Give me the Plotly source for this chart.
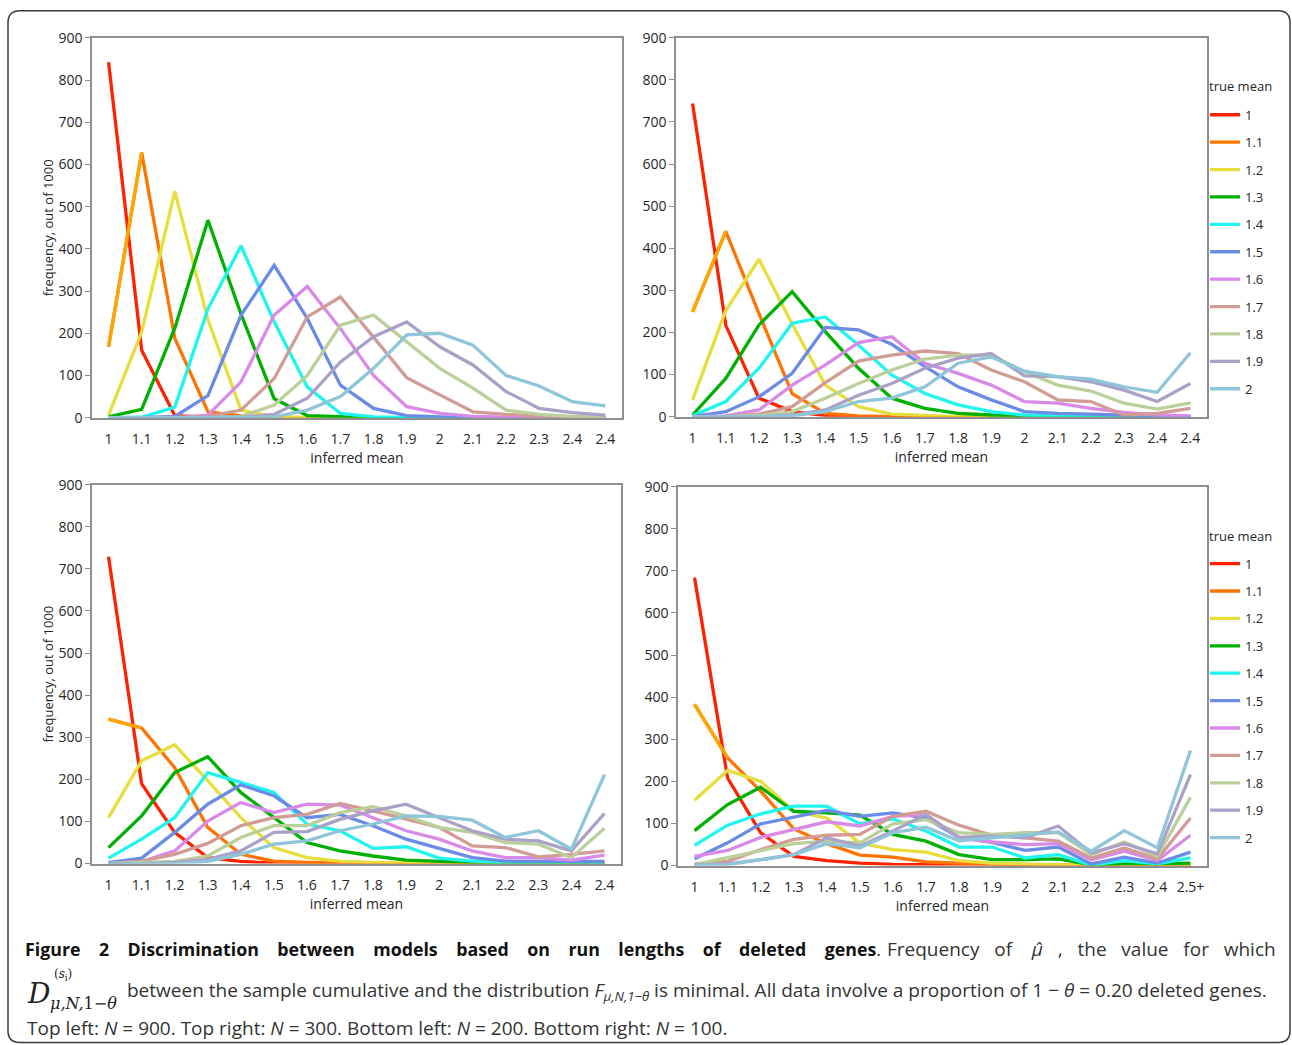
import plotly.graph_objects as go

W = 1292          # figure width in px
HF = 1064         # figure height in px
# the page photo maps figure y-pixels as  y_photo = YOFF + YSCALE * y_fig  (measured)
YOFF = 9.2
YSCALE = 0.9824

# ---------------- data ----------------
true_means = ["1", "1.1", "1.2", "1.3", "1.4", "1.5", "1.6", "1.7", "1.8", "1.9", "2"]
colors = ["#ff2200", "#ff7400", "#e6de3c", "#00b000", "#1ef5ee", "#6a8be6",
          "#d98ae8", "#d19b96", "#bbcf9b", "#aaa1c6", "#8fc5d9"]

xlabels = ["1", "1.1", "1.2", "1.3", "1.4", "1.5", "1.6", "1.7", "1.8", "1.9",
           "2", "2.1", "2.2", "2.3", "2.4", "2.4"]
xlabels_br = ["1", "1.1", "1.2", "1.3", "1.4", "1.5", "1.6", "1.7", "1.8", "1.9",
              "2", "2.1", "2.2", "2.3", "2.4", "2.5+"]

# Top left: N = 900
n900 = [
    [842, 160, 5, 1, 0, 0, 0, 0, 0, 0, 0, 0, 0, 0, 0, 0],
    [168, 628, 188, 14, 4, 1, 0, 0, 0, 0, 0, 0, 0, 0, 0, 0],
    [6, 203, 536, 232, 18, 2, 0, 0, 0, 0, 0, 0, 0, 0, 0, 0],
    [2, 20, 212, 468, 245, 45, 5, 2, 0, 0, 0, 0, 0, 0, 0, 0],
    [0, 1, 25, 258, 407, 227, 73, 10, 2, 0, 0, 0, 0, 0, 0, 0],
    [0, 0, 3, 52, 243, 361, 235, 77, 22, 5, 2, 0, 0, 0, 0, 0],
    [0, 0, 0, 6, 85, 243, 311, 211, 100, 26, 10, 3, 1, 0, 0, 0],
    [0, 0, 0, 3, 18, 93, 239, 286, 192, 95, 54, 14, 8, 3, 1, 0],
    [0, 0, 0, 0, 3, 30, 100, 219, 243, 180, 117, 70, 18, 8, 3, 1],
    [0, 0, 0, 0, 1, 8, 46, 132, 192, 227, 168, 125, 62, 22, 12, 6],
    [0, 0, 0, 0, 0, 2, 18, 50, 117, 196, 200, 172, 100, 75, 38, 28],
]

# Top right: N = 300
n300 = [
    [744, 217, 44, 12, 3, 0, 0, 0, 0, 0, 0, 0, 0, 0, 0, 0],
    [249, 440, 245, 55, 8, 2, 0, 0, 0, 0, 0, 0, 0, 0, 0, 0],
    [40, 252, 374, 220, 75, 24, 6, 3, 0, 0, 0, 0, 0, 0, 0, 0],
    [4, 91, 218, 297, 202, 115, 44, 20, 8, 4, 2, 0, 0, 0, 0, 0],
    [2, 36, 115, 222, 237, 170, 99, 55, 28, 12, 4, 1, 0, 0, 0, 0],
    [0, 12, 47, 103, 212, 206, 172, 119, 71, 40, 12, 8, 6, 3, 1, 0],
    [0, 2, 16, 75, 123, 176, 190, 127, 103, 75, 36, 32, 20, 10, 4, 2],
    [0, 0, 6, 24, 81, 132, 146, 156, 150, 111, 83, 40, 36, 4, 8, 20],
    [0, 0, 3, 12, 44, 79, 111, 137, 146, 146, 107, 75, 61, 32, 18, 33],
    [0, 0, 0, 4, 16, 51, 79, 115, 139, 150, 97, 95, 83, 63, 36, 79],
    [0, 0, 0, 2, 12, 36, 44, 71, 127, 142, 108, 95, 89, 71, 58, 152],
]

# Bottom left: N = 200
n200 = [
    [729, 190, 74, 14, 5, 1, 0, 0, 0, 0, 0, 0, 0, 0, 0, 0],
    [343, 322, 228, 86, 22, 6, 3, 1, 0, 0, 0, 0, 0, 0, 0, 0],
    [109, 244, 282, 197, 109, 38, 14, 6, 3, 1, 0, 0, 0, 0, 0, 0],
    [38, 113, 216, 254, 169, 109, 50, 30, 18, 8, 5, 2, 0, 0, 0, 0],
    [13, 58, 109, 216, 193, 169, 94, 78, 36, 40, 13, 6, 2, 0, 0, 0],
    [2, 13, 74, 141, 187, 161, 109, 117, 90, 58, 36, 14, 6, 6, 5, 5],
    [0, 5, 30, 101, 145, 121, 141, 139, 109, 78, 58, 30, 14, 14, 8, 20],
    [0, 6, 22, 48, 90, 109, 117, 143, 125, 105, 86, 42, 38, 16, 22, 30],
    [0, 2, 5, 18, 62, 90, 90, 121, 135, 113, 86, 74, 50, 46, 14, 84],
    [0, 0, 3, 10, 30, 74, 76, 105, 125, 141, 109, 78, 58, 54, 30, 119],
    [0, 0, 0, 5, 22, 46, 54, 78, 94, 113, 112, 103, 62, 78, 34, 211],
]

# Bottom right: N = 100
n100 = [
    [684, 208, 78, 22, 12, 6, 3, 2, 1, 1, 0, 0, 0, 0, 0, 0],
    [383, 256, 177, 87, 52, 25, 20, 9, 6, 4, 2, 2, 0, 0, 0, 0],
    [155, 226, 200, 129, 113, 54, 38, 32, 12, 6, 4, 2, 0, 0, 0, 0],
    [83, 145, 186, 129, 125, 120, 74, 58, 26, 14, 14, 16, 2, 4, 4, 6],
    [48, 96, 123, 141, 141, 99, 111, 82, 44, 44, 18, 26, 1, 12, 4, 18],
    [16, 54, 99, 115, 131, 117, 125, 113, 67, 55, 36, 44, 4, 20, 6, 32],
    [22, 36, 67, 86, 104, 94, 117, 121, 66, 56, 50, 52, 14, 34, 12, 72],
    [4, 10, 38, 62, 72, 74, 117, 129, 96, 72, 66, 58, 18, 42, 16, 113],
    [2, 18, 34, 52, 58, 54, 99, 109, 78, 74, 78, 78, 26, 56, 22, 162],
    [1, 4, 14, 26, 66, 46, 82, 121, 67, 70, 66, 94, 30, 52, 28, 216],
    [0, 2, 14, 26, 52, 42, 78, 91, 59, 66, 74, 80, 34, 83, 42, 273],
]

# ---------------- figure ----------------
FONT = "Open Sans"
TXT = "#262626"
FRAME = "#8e8e8e"

def px_x(p):
    return p / W

def px_y(p):
    yf = (p - YOFF) / YSCALE
    return 1 - yf / HF

panels = [
    (n900, "", (92, 622), (37, 417), xlabels, None, True),
    (n300, "2", (676, 1207), (37, 416), xlabels, "legend", False),
    (n200, "3", (92, 621), (484, 863), xlabels, None, True),
    (n100, "4", (678, 1207), (486, 865), xlabels_br, "legend2", False),
]

fig = go.Figure()
xs = list(range(len(xlabels)))

for data, ax, dx, dy, labels, leg, ytitle in panels:
    for k, (name, col, ys) in enumerate(zip(true_means, colors, data)):
        fig.add_trace(go.Scatter(
            x=xs, y=ys, mode="lines", name=name,
            line=dict(color=col, width=3.3),
            xaxis="x" + ax, yaxis="y" + ax,
            showlegend=leg is not None,
            legend=leg if leg else "legend",
            legendgroup=(leg or "none") + name,
            hoverinfo="x+y+name",
        ))
        if k == 1:
            # first segment of the 1.1 series is drawn in a lighter amber tone
            fig.add_trace(go.Scatter(
                x=xs[:2], y=ys[:2], mode="lines", showlegend=False,
                line=dict(color="#ffa400", width=3.3),
                xaxis="x" + ax, yaxis="y" + ax, hoverinfo="skip",
            ))

    xkey = "xaxis" + ax
    ykey = "yaxis" + ax
    fig.layout[xkey] = dict(
        domain=[px_x(dx[0]), px_x(dx[1])],
        anchor="y" + ax,
        range=[-0.5, len(xlabels) - 0.5],
        tickmode="array", tickvals=xs, ticktext=labels,
        showline=True, mirror=True, linecolor=FRAME, linewidth=1.5,
        showgrid=False, zeroline=False, ticks="",
        ticklabelstandoff=8,
        tickfont=dict(family=FONT, size=14, color=TXT),
        title=dict(text="inferred mean", standoff=4,
                   font=dict(family=FONT, size=14, color=TXT)),
    )
    fig.layout[ykey] = dict(
        domain=[px_y(dy[1]), px_y(dy[0])],
        anchor="x" + ax,
        range=[0, 900], dtick=100, tick0=0,
        showline=True, mirror=True, linecolor=FRAME, linewidth=1.5,
        showgrid=False, zeroline=False,
        ticks="outside", ticklen=5, tickcolor=FRAME,
        tickfont=dict(family=FONT, size=14, color=TXT),
        title=dict(text="frequency, out of 1000" if ytitle else "", standoff=2,
                   font=dict(family=FONT, size=13, color=TXT)),
    )

legend_common = dict(
    xanchor="left", yanchor="top",
    bgcolor="rgba(0,0,0,0)",
    font=dict(family=FONT, size=13, color=TXT),
    traceorder="grouped", tracegroupgap=7.5, itemwidth=30,
)
fig.update_layout(
    legend=dict(x=px_x(1205), y=px_y(99), **legend_common),
    legend2=dict(x=px_x(1205), y=px_y(548), **legend_common),
)

# ---------------- caption ----------------
SP = "\u00a0"
CAPSIZE = 19
cap = dict(family=FONT, size=CAPSIZE, color="#333333")
bold_words = "Figure 2 Discrimination between models based on run lengths of deleted genes".split(" ")
bold_txt = (" " + SP * 3).join(bold_words)
rest_words = ["Frequency", "of", SP + "<i>μ̂</i>", ",", "the", "value", "for", "which"]
rest_txt = (" " + SP * 2).join(rest_words)

ann = []
# legend headings
for ty in (85, 535):
    ann.append(dict(x=px_x(1207), y=px_y(ty), xref="paper", yref="paper",
                    xanchor="left", yanchor="middle", showarrow=False,
                    text="true mean", font=dict(family=FONT, size=13, color=TXT)))

ann.append(dict(x=px_x(23), y=px_y(948), xref="paper", yref="paper",
                xanchor="left", yanchor="middle", showarrow=False,
                text="<b>" + bold_txt + "</b><span style='color:#333333'>.</span>",
                font=dict(family=FONT, size=CAPSIZE - 1.2, color="#111111")))
ann.append(dict(x=px_x(1278), y=px_y(948), xref="paper", yref="paper",
                xanchor="right", yanchor="middle", showarrow=False,
                text=rest_txt, font=cap))
ann.append(dict(x=px_x(25), y=px_y(993), xref="paper", yref="paper",
                xanchor="left", yanchor="middle", showarrow=False,
                text="<i>D</i>", font=dict(family="DejaVu Serif", size=28, color="#222222")))
ann.append(dict(x=px_x(52), y=px_y(974), xref="paper", yref="paper",
                xanchor="left", yanchor="middle", showarrow=False,
                text="(<i>s</i><sub>i</sub>)", font=dict(family="DejaVu Serif", size=12, color="#222222")))
ann.append(dict(x=px_x(48), y=px_y(1003), xref="paper", yref="paper",
                xanchor="left", yanchor="middle", showarrow=False,
                text="<i>μ,N,</i>1<i>−θ</i>", font=dict(family="DejaVu Serif", size=16, color="#222222")))
ann.append(dict(x=px_x(125), y=px_y(990), xref="paper", yref="paper",
                xanchor="left", yanchor="middle", showarrow=False,
                text="between the sample cumulative and the distribution <i>F</i><sub><i>μ,N,1−θ</i></sub> is minimal. "
                     "All data involve a proportion of 1 − <i>θ</i> = 0.20 deleted genes.",
                font=cap))
ann.append(dict(x=px_x(25), y=px_y(1027), xref="paper", yref="paper",
                xanchor="left", yanchor="middle", showarrow=False,
                text="Top left: <i>N</i> = 900. Top right: <i>N</i> = 300. Bottom left: <i>N</i> = 200. "
                     "Bottom right: <i>N</i> = 100.",
                font=cap))

# rounded outer frame
x0, x1 = px_x(8), px_x(1290)
y0, y1 = px_y(1042), min(px_y(10), 1 - 0.8 / HF)
rx, ry = 12 / W, 12 / HF
path = (f"M {x0+rx},{y1} L {x1-rx},{y1} Q {x1},{y1} {x1},{y1-ry} "
        f"L {x1},{y0+ry} Q {x1},{y0} {x1-rx},{y0} L {x0+rx},{y0} "
        f"Q {x0},{y0} {x0},{y0+ry} L {x0},{y1-ry} Q {x0},{y1} {x0+rx},{y1} Z")

fig.update_layout(
    width=W, height=HF,
    margin=dict(l=0, r=0, t=0, b=0),
    paper_bgcolor="white", plot_bgcolor="white",
    font=dict(family=FONT, color=TXT),
    annotations=ann,
    shapes=[dict(type="path", path=path, xref="paper", yref="paper",
                 line=dict(color="#3a3a3a", width=1.5), fillcolor="rgba(0,0,0,0)")],
)

fig.write_html(
    "out.html",
    config={"displayModeBar": False},
    post_script="document.body.style.margin='0';document.body.style.overflow='hidden';",
)
